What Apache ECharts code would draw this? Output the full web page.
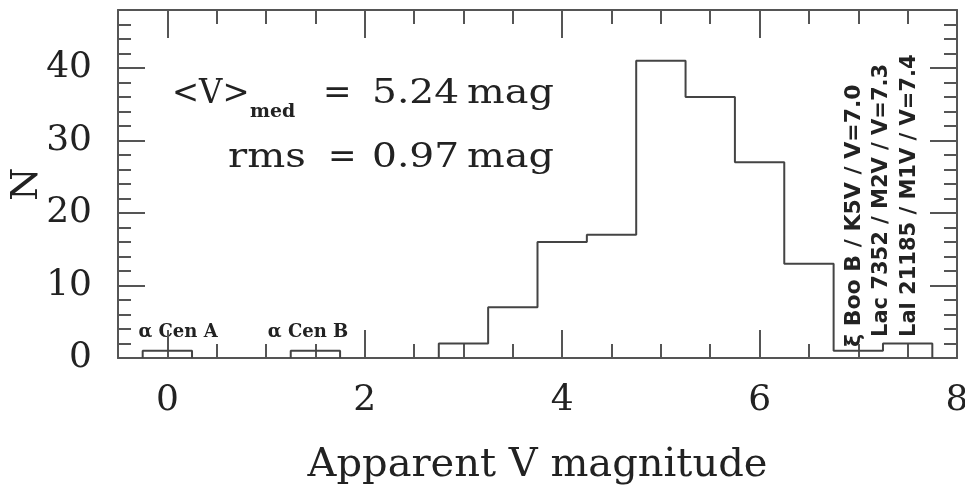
<!DOCTYPE html>
<html>
<head>
<meta charset="utf-8">
<script src="https://cdn.jsdelivr.net/npm/echarts@6/dist/echarts.min.js"></script>
<style>
html,body{margin:0;padding:0;background:#fff;}
#c{width:965px;height:487px;}
</style>
</head>
<body>
<div id="c"></div>
<script>
// ---- data ----
const binCenters = [0.0, 1.5, 3.0, 3.5, 4.0, 4.5, 5.0, 5.5, 6.0, 6.5, 7.0, 7.5];
const binCounts  = [1, 1, 2, 7, 16, 17, 41, 36, 27, 13, 1, 2];
const binWidth = 0.5;
const xMajorTicks = [0, 2, 4, 6, 8];
const xMinorTicks = [0.5, 1, 1.5, 2.5, 3, 3.5, 4.5, 5, 5.5, 6.5, 7, 7.5];
const yMajorTicks = [0, 10, 20, 30, 40];
const yMinorTicks = [2, 4, 6, 8, 12, 14, 16, 18, 22, 24, 26, 28, 32, 34, 36, 38, 42, 44, 46];
const starLabels = ['α Cen A', 'α Cen B'];
const faintLabels = ['ξ Boo B / K5V / V=7.0', 'Lac 7352 / M2V / V=7.3', 'Lal 21185 / M1V / V=7.4'];
const statLabels = { med: '5.24', rms: '0.97' };

// ---- build step outlines for contiguous groups of bins ----
function buildGroups() {
  const groups = [];
  let cur = null;
  for (let i = 0; i < binCenters.length; i++) {
    const l = binCenters[i] - binWidth / 2, r = binCenters[i] + binWidth / 2;
    if (cur && Math.abs(binCenters[i] - binCenters[i - 1] - binWidth) < 1e-9) {
      cur.push([l, binCounts[i]]); cur.push([r, binCounts[i]]);
    } else {
      if (cur) { cur.push([cur[cur.length - 1][0], 0]); groups.push(cur); }
      cur = [[l, 0], [l, binCounts[i]], [r, binCounts[i]]];
    }
  }
  if (cur) { cur.push([cur[cur.length - 1][0], 0]); groups.push(cur); }
  return groups;
}
const groups = buildGroups();

const FRAME = '#555';
const TXT = '#222';
const serif = '"DejaVu Serif", serif';

function xAx(pos, ticks, len, showLine, extra) {
  return Object.assign({
    type: 'value', position: pos, min: -0.5, max: 8, gridIndex: 0,
    axisLine: { show: showLine, onZero: false, lineStyle: { color: FRAME, width: 2 } },
    axisTick: { show: true, inside: true, length: len, customValues: ticks, lineStyle: { color: FRAME, width: 2 } },
    axisLabel: { show: false },
    splitLine: { show: false }
  }, extra || {});
}
function yAx(pos, ticks, len, showLine, extra) {
  return Object.assign({
    type: 'value', position: pos, min: 0, max: 48, gridIndex: 0,
    axisLine: { show: showLine, onZero: false, lineStyle: { color: FRAME, width: 2 } },
    axisTick: { show: true, inside: true, length: len, customValues: ticks, lineStyle: { color: FRAME, width: 2 } },
    axisLabel: { show: false },
    splitLine: { show: false }
  }, extra || {});
}

function txt(x, y, text, font, sx) {
  return { type: 'text', x: x, y: y, scaleX: sx || 1,
    style: { text: text, font: font, fill: TXT, align: 'left', verticalAlign: 'middle' } };
}

const chart = echarts.init(document.getElementById('c'), null, { renderer: 'canvas' });
const big = '34px ' + serif;
const option = {
  animation: false,
  backgroundColor: '#fff',
  grid: { left: 118, right: 8, top: 10, bottom: 129, containLabel: false, outerBoundsMode: 'none' },
  xAxis: [
    xAx('bottom', xMajorTicks, 28, true, {
      axisLabel: { show: true, customValues: xMajorTicks, margin: 25, color: TXT, fontFamily: serif, fontSize: 36 },
      name: 'Apparent V magnitude', nameLocation: 'middle', nameGap: 88, nameMoveOverlap: false,
      nameTextStyle: { color: TXT, fontFamily: serif, fontSize: 40 }
    }),
    xAx('bottom', xMinorTicks, 14, false),
    xAx('top', xMajorTicks, 28, true),
    xAx('top', xMinorTicks, 14, false)
  ],
  yAxis: [
    yAx('left', yMajorTicks, 27, true, {
      axisLabel: { show: true, customValues: yMajorTicks, margin: 26, color: TXT, fontFamily: serif, fontSize: 36 },
      name: 'N', nameLocation: 'middle', nameGap: 72, nameRotate: 90, nameMoveOverlap: false,
      nameTextStyle: { color: TXT, fontFamily: serif, fontSize: 38 }
    }),
    yAx('left', yMinorTicks, 13, false),
    yAx('right', yMajorTicks, 27, true),
    yAx('right', yMinorTicks, 13, false)
  ],
  series: groups.map(g => ({
    type: 'line', xAxisIndex: 0, yAxisIndex: 0, data: g,
    symbol: 'none', silent: true,
    lineStyle: { color: '#444', width: 2 }, z: 3
  })),
  graphic: [
    txt(172, 94, '<V>', big, 0.95),
    txt(250, 112, 'med', 'bold 18px ' + serif, 1.05),
    txt(323, 94, '=', big, 1),
    txt(372, 94, statLabels.med, big, 1.15),
    txt(467, 94, 'mag', big, 1.17),
    txt(228, 158, 'rms', big, 1.18),
    txt(328, 158, '=', big, 1),
    txt(372, 158, statLabels.rms, big, 1.15),
    txt(467, 158, 'mag', big, 1.17),
    { type: 'text', x: 178, y: 332, style: { text: starLabels[0], font: 'bold 18px ' + serif, fill: TXT, align: 'center', verticalAlign: 'middle' } },
    { type: 'text', x: 308, y: 332, style: { text: starLabels[1], font: 'bold 18px ' + serif, fill: TXT, align: 'center', verticalAlign: 'middle' } },
    { type: 'text', x: 854, y: 347, rotation: Math.PI / 2, style: { text: faintLabels[0], font: 'bold 22px "DejaVu Sans", sans-serif', fill: TXT, align: 'left', verticalAlign: 'middle' } },
    { type: 'text', x: 882, y: 337, rotation: Math.PI / 2, style: { text: faintLabels[1], font: 'bold 21px "DejaVu Sans", sans-serif', fill: TXT, align: 'left', verticalAlign: 'middle' } },
    { type: 'text', x: 910, y: 337, rotation: Math.PI / 2, style: { text: faintLabels[2], font: 'bold 21px "DejaVu Sans", sans-serif', fill: TXT, align: 'left', verticalAlign: 'middle' } }
  ]
};
chart.setOption(option);
</script>
</body>
</html>
